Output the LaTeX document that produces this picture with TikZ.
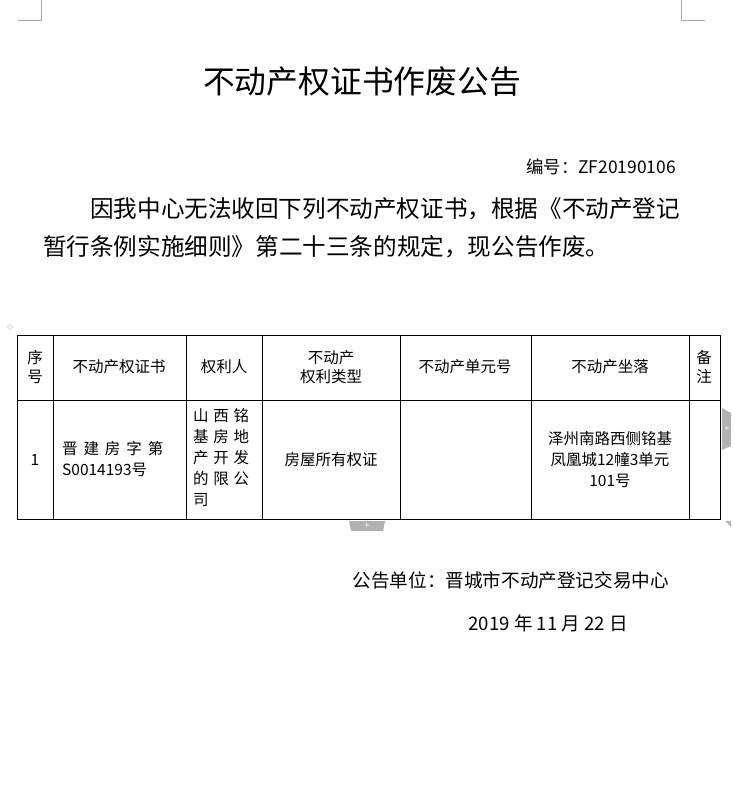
\documentclass[tikz,border=0pt]{standalone}
\usepackage{fontspec}
\setmainfont{Liberation Serif}
\newfontfamily\cjk{Noto Sans CJK SC}
\begin{document}
\begin{tikzpicture}[x=1pt,y=-1pt,
  cell/.style={font=\cjk\fontsize{15.5}{19}\selectfont,align=center,inner sep=0pt},
  body/.style={font=\cjk\fontsize{23.6}{28}\selectfont,anchor=west,inner sep=0pt},
  small/.style={font=\cjk\fontsize{18}{22}\selectfont,anchor=east,inner sep=0pt},
  cornermark/.style={draw=gray!70,line width=0.8pt}]
\useasboundingbox (0,0) rectangle (735,809);
\fill[white] (0,0) rectangle (735,809);
\draw[cornermark] (41,0) -- (41,20) -- (18,20);
\draw[cornermark] (681,0) -- (681,20) -- (705,20);
\node[font=\cjk\fontsize{31.8}{36}\selectfont] (title) at (362,82) {不动产权证书作废公告};
\node[small,font=\cjk\fontsize{17.4}{20}\selectfont] (no) at (676,167) {编号：ZF20190106};
\node[body] (p1) at (90,209) {因我中心无法收回下列不动产权证书，根据《不动产登记};
\node[body] (p2) at (43,247) {暂行条例实施细则》第二十三条的规定，现公告作废。};
% table
\draw[line width=0.8pt] (17,335) rectangle (720,519);
\draw[line width=0.6pt] (17,400) -- (720,400);
\foreach \x in {53,186,262,400,531,689} \draw[line width=0.6pt] (\x,335) -- (\x,519);
\node[cell] (h1) at (35,367) {序\\号};
\node[cell] (h2) at (119,367) {不动产权证书};
\node[cell] (h3) at (224,367) {权利人};
\node[cell] (h4) at (331,367) {不动产\\权利类型};
\node[cell] (h5) at (465,367) {不动产单元号};
\node[cell] (h6) at (610,367) {不动产坐落};
\node[cell] (h7) at (704,367) {备\\注};
\node[cell] (c1) at (35,460) {1};
\node[cell,anchor=west] (c2a) at (62,449) {晋\hspace{0.38em}建\hspace{0.38em}房\hspace{0.38em}字\hspace{0.38em}第};
\node[cell,anchor=west] (c2b) at (62,470) {S0014193号};
\node[cell,anchor=north west,align=left,font=\cjk\fontsize{15.5}{21}\selectfont] (c3) at (193,408) {山\hspace{0.3em}西\hspace{0.3em}铭\\基\hspace{0.3em}房\hspace{0.3em}地\\产\hspace{0.3em}开\hspace{0.3em}发\\的\hspace{0.3em}限\hspace{0.3em}公\\司};
\node[cell] (c4) at (331,460) {房屋所有权证};
\node[cell,font=\cjk\fontsize{15.5}{21}\selectfont] (c6) at (610,460) {泽州南路西侧铭基\\凤凰城12幢3单元\\101号};
% word handles
\fill[gray!60] (722,408) -- (731,413) -- (731,446) -- (722,450) -- cycle;
\node[white,font=\bfseries\small,inner sep=0pt] (ph1) at (727,429) {+};
\fill[gray!60] (349,521) -- (385,521) -- (383,531) -- (351,531) -- cycle;
\node[white,font=\bfseries\small,inner sep=0pt] (ph2) at (367,526) {+};
\fill[gray!60] (725,521) -- (731,521) -- (731,527) -- cycle;
\node[gray!60,font=\large,inner sep=0pt] (mv) at (10,328) {$\diamond$};
\node[small,font=\cjk\fontsize{18.6}{22}\selectfont] (sig) at (669,580) {公告单位：晋城市不动产登记交易中心};
\node[small,font=\cjk\fontsize{18.6}{22}\selectfont] (date) at (628,623) {2019 年 11 月 22 日};
\end{tikzpicture}
\end{document}
